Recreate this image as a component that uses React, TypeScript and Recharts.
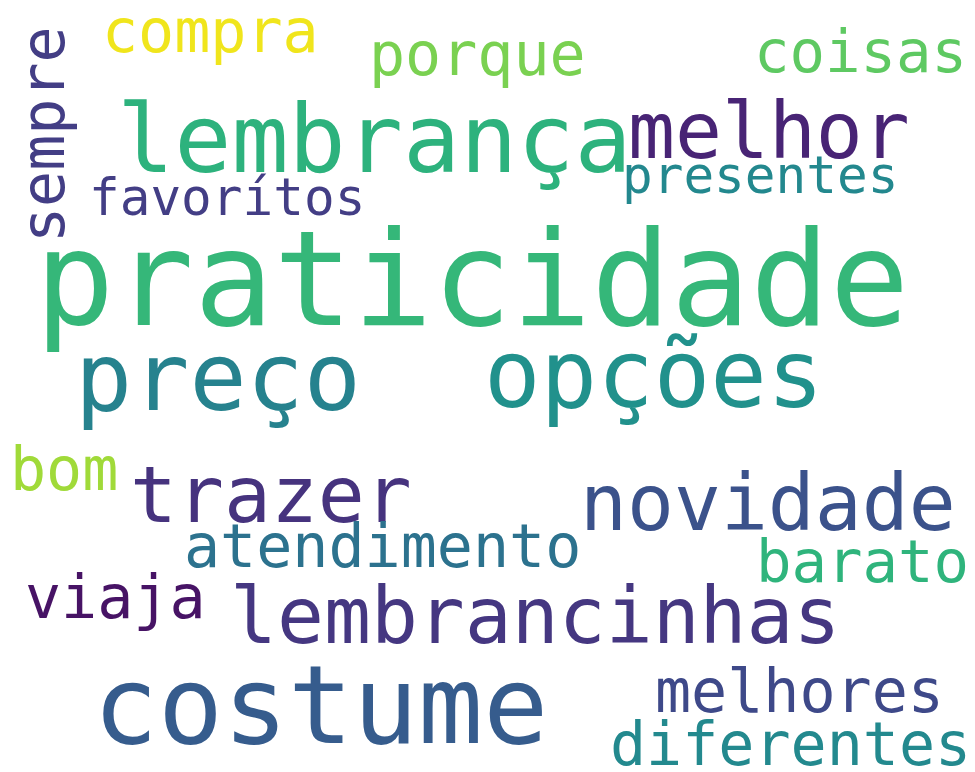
import React from "react";
import { ScatterChart, Scatter, XAxis, YAxis } from "recharts";

const words = [
  "praticidade", "lembrança", "melhor", "presentes", "coisas", "porque", "compra",
  "sempre", "favorítos", "preço", "opções", "bom", "trazer", "novidade",
  "atendimento", "barato", "viaja", "lembrancinhas", "costume", "melhores", "diferentes",
];
const weights = [132, 95, 78, 51, 59, 60, 60, 60, 51, 95, 94, 60, 78, 78, 60, 59, 60, 78, 108, 60, 60];
const leftX = [35, 117, 628, 622, 754, 369, 102, 64, 89, 75, 484, 10, 130, 580, 184, 756, 25, 230, 93, 655, 610];
const baseY = [325, 172, 158, 193, 72, 75, 52, 243, 215, 410, 407, 490, 522, 530, 567, 582, 618, 643, 743, 712, 765];
const angles = [0, 0, 0, 0, 0, 0, 0, -90, 0, 0, 0, 0, 0, 0, 0, 0, 0, 0, 0, 0, 0];
const colors = [
  "#35b779", "#2db27d", "#482475", "#23888e", "#5ec962", "#7ad151", "#f0e51c",
  "#433e85", "#433e85", "#26828e", "#21918c", "#a0da39", "#46337e", "#3b528b",
  "#2c728e", "#2fb47c", "#471365", "#453781", "#365c8d", "#3e4989", "#23898e",
];

const data = words.map((w, i) => ({
  word: w,
  x: leftX[i],
  y: baseY[i],
  size: weights[i],
  angle: angles[i],
  color: colors[i],
}));

const WordShape = (props: any) => {
  const { cx, cy, payload } = props;
  if (cx == null || cy == null) return null;
  return (
    <text
      x={cx}
      y={cy}
      fontSize={payload.size}
      fill={payload.color}
      fontFamily="'DejaVu Sans Mono', monospace"
      textAnchor="start"
      transform={payload.angle ? `rotate(${payload.angle} ${cx} ${cy})` : undefined}
    >
      {payload.word}
    </text>
  );
};

export default function App() {
  return (
    <div style={{ width: 975, height: 772, background: "#fff" }}>
      <style>{`body{margin:0;background:#fff}`}</style>
      <ScatterChart width={975} height={772} margin={{ top: 0, right: 0, bottom: 0, left: 0 }}>
        <XAxis type="number" dataKey="x" domain={[0, 975]} hide />
        <YAxis type="number" dataKey="y" domain={[0, 772]} reversed hide />
        <Scatter data={data} shape={<WordShape />} isAnimationActive={false} />
      </ScatterChart>
    </div>
  );
}
